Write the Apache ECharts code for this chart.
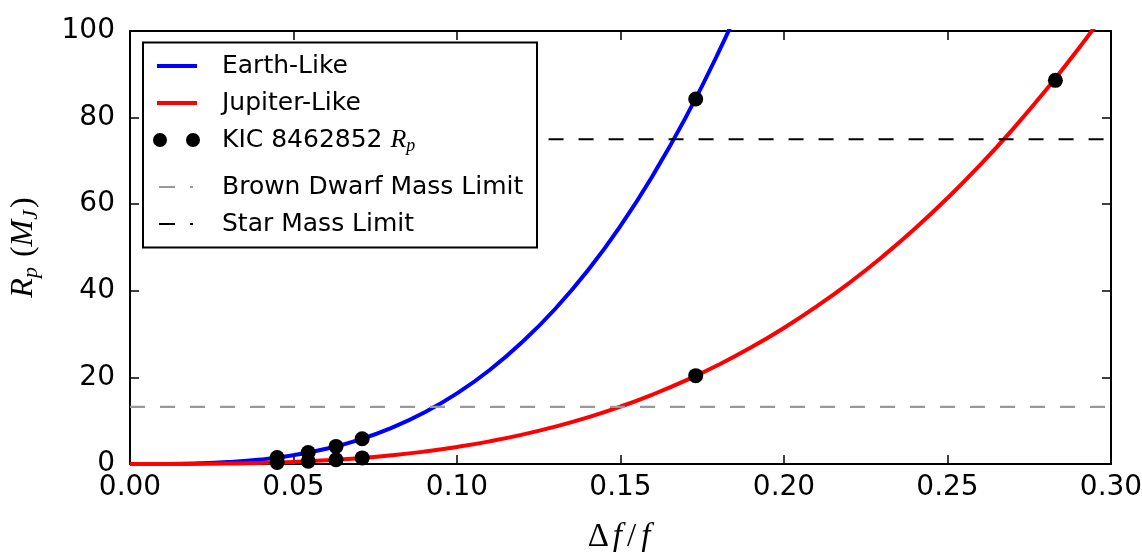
<!DOCTYPE html>
<html><head><meta charset="utf-8">
<script src="https://cdn.jsdelivr.net/npm/echarts@6/dist/echarts.min.js"></script>
<style>html,body{margin:0;padding:0;background:#fff}#c{width:1142px;height:552px}</style>
</head><body><div id="c"></div>
<script>
// ---- data ----
const xTicks = [0, 0.05, 0.10, 0.15, 0.20, 0.25, 0.30];
const xTickLabels = ['0.00', '0.05', '0.10', '0.15', '0.20', '0.25', '0.30'];
const yTicks = [0, 20, 40, 60, 80, 100];
const yTickLabels = ['0', '20', '40', '60', '80', '100'];

const earthX = [0, 0.01, 0.02, 0.03, 0.04, 0.05, 0.06, 0.07, 0.08, 0.09, 0.10, 0.11, 0.12, 0.13, 0.14, 0.15, 0.16, 0.17, 0.18, 0.19];
const earthY = [0, 0.02, 0.13, 0.44, 1.04, 2.04, 3.52, 5.59, 8.35, 11.88, 16.3, 21.7, 28.2, 35.8, 44.7, 55.0, 66.8, 80.1, 95.1, 111.8];

const jupiterX = [0, 0.01, 0.02, 0.03, 0.04, 0.05, 0.06, 0.07, 0.08, 0.09, 0.10, 0.11, 0.12, 0.13, 0.14, 0.15,
  0.16, 0.17, 0.18, 0.19, 0.20, 0.21, 0.22, 0.23, 0.24, 0.25, 0.26, 0.27, 0.28, 0.29, 0.30];
const jupiterY = [0, 0.004, 0.03, 0.11, 0.25, 0.49, 0.85, 1.35, 2.01, 2.86, 3.93, 5.23, 6.79, 8.63, 10.78, 13.26,
  16.10, 19.31, 22.92, 26.95, 31.44, 36.40, 41.85, 47.82, 54.33, 61.41, 69.07, 77.35, 86.27, 95.85, 106.1];

const kicX = [0.045, 0.0545, 0.063, 0.071, 0.173, 0.045, 0.0545, 0.063, 0.071, 0.173, 0.283];
const kicY = [1.49, 2.64, 4.07, 5.83, 84.3, 0.36, 0.64, 0.98, 1.41, 20.4, 88.6];

const brownDwarfX = [0, 0.30];
const brownDwarfY = [13.2, 13.2];
const starX = [0.128, 0.30];
const starY = [75, 75];

const names = ['Earth-Like', 'Jupiter-Like', 'KIC 8462852 Rp', 'Brown Dwarf Mass Limit', 'Star Mass Limit'];

// ---- chart ----
const pairs = (xs, ys) => xs.map((x, i) => [x, ys[i]]);
const lbl = (ticks, labels) => v => {
  const i = ticks.findIndex(t => Math.abs(t - v) < 1e-9);
  return i >= 0 ? labels[i] : '';
};

const lineIcon = 'path://M0,0M64,14M4,5h40v4h-40z';
const dashIcon = 'path://M0,0M64,14M6,6h16v2h-16zM37,6h3v2h-3z';
const dotsIcon = 'path://M0,0M64,14M0,7a7,7 0 1,0 14,0a7,7 0 1,0 -14,0zM33,7a7,7 0 1,0 14,0a7,7 0 1,0 -14,0z';

const tickStyle = { show: true, inside: true, length: 9, lineStyle: { color: '#000', width: 1.5 } };
const lineStyleAxis = { show: true, onZero: false, lineStyle: { color: '#000', width: 2 } };
const labelFont = { fontSize: 28, fontFamily: 'DejaVu Sans', color: '#000' };
const serif = 'Liberation Serif';

const legendText = {
  fontSize: 25, fontFamily: 'DejaVu Sans', color: '#000', lineHeight: 30,
  rich: {
    t: { fontSize: 25, fontFamily: 'DejaVu Sans', color: '#000', lineHeight: 30 },
    r: { fontSize: 26, fontFamily: serif, fontStyle: 'italic', color: '#000', lineHeight: 30 },
    s: { fontSize: 18, fontFamily: serif, fontStyle: 'italic', color: '#000', lineHeight: 14, verticalAlign: 'bottom' }
  }
};
const legendCommon = {
  orient: 'vertical', left: 153, padding: 0, itemGap: 7, itemWidth: 64, itemHeight: 14,
  selectedMode: false, z: 10, itemStyle: { borderWidth: 0 }, textStyle: legendText,
  formatter: n => n === names[2] ? '{t|KIC 8462852 }{r|R}{s|p}' : n
};

const chart = echarts.init(document.getElementById('c'), null, { renderer: 'canvas' });
chart.setOption({
  animation: false,
  backgroundColor: '#fff',
  grid: { left: 130, right: 31, top: 31, bottom: 88, containLabel: false, outerBoundsMode: 'none' },
  graphic: [{
    type: 'rect', z: 3,
    shape: { x: 143, y: 42.5, width: 394, height: 205 },
    style: { fill: '#fff', stroke: '#000', lineWidth: 2 }
  }],
  legend: [
    Object.assign({}, legendCommon, {
      top: 51,
      data: [
        { name: names[0], icon: lineIcon, itemStyle: { color: '#0000ff' } },
        { name: names[1], icon: lineIcon, itemStyle: { color: '#ff0000' } },
        { name: names[2], icon: dotsIcon, itemStyle: { color: '#000' } }
      ]
    }),
    Object.assign({}, legendCommon, {
      top: 172,
      data: [
        { name: names[3], icon: dashIcon, itemStyle: { color: '#999' } },
        { name: names[4], icon: dashIcon, itemStyle: { color: '#000' } }
      ]
    })
  ],
  xAxis: [{
    type: 'value', position: 'bottom', min: 0, max: 0.3, interval: 0.05,
    axisLine: lineStyleAxis, axisTick: tickStyle, splitLine: { show: false },
    axisLabel: Object.assign({ margin: 10, formatter: lbl(xTicks, xTickLabels) }, labelFont),
    name: '{d|Δ}{f|f}{o|/}{f|f}', nameLocation: 'middle', nameGap: 55,
    nameTextStyle: {
      rich: {
        d: { fontSize: 33, fontFamily: serif, color: '#000', lineHeight: 36, padding: [0, 1, 0, 0] },
        f: { fontSize: 33, fontFamily: serif, fontStyle: 'italic', color: '#000', lineHeight: 36, padding: [0, 3, 0, 3] },
        o: { fontSize: 33, fontFamily: serif, color: '#000', lineHeight: 36, padding: [0, 2, 0, 2] }
      }
    }
  }, {
    type: 'value', position: 'top', min: 0, max: 0.3, interval: 0.05,
    axisLine: lineStyleAxis, axisTick: tickStyle, axisLabel: { show: false }, splitLine: { show: false }
  }],
  yAxis: [{
    type: 'value', position: 'left', min: 0, max: 100, interval: 20,
    axisLine: lineStyleAxis, axisTick: tickStyle, splitLine: { show: false },
    axisLabel: Object.assign({ margin: 15, formatter: lbl(yTicks, yTickLabels) }, labelFont),
    name: '{i|R}{s|p}{n| (}{i|M}{s|J}{n|)}', nameLocation: 'middle', nameRotate: 90, nameGap: 88,
    nameTextStyle: {
      rich: {
        i: { fontSize: 32, fontFamily: serif, fontStyle: 'italic', color: '#000', lineHeight: 36 },
        s: { fontSize: 22, fontFamily: serif, fontStyle: 'italic', color: '#000', lineHeight: 16, verticalAlign: 'bottom', padding: [0, 2, 0, 0] },
        n: { fontSize: 32, fontFamily: serif, color: '#000', lineHeight: 36 }
      }
    }
  }, {
    type: 'value', position: 'right', min: 0, max: 100, interval: 20,
    axisLine: lineStyleAxis, axisTick: tickStyle, axisLabel: { show: false }, splitLine: { show: false }
  }],
  series: [
    { name: names[0], type: 'line', data: pairs(earthX, earthY), smooth: true, showSymbol: false, symbol: 'none',
      z: 2, color: '#0000ff', lineStyle: { color: '#0000ff', width: 4 } },
    { name: names[1], type: 'line', data: pairs(jupiterX, jupiterY), smooth: true, showSymbol: false, symbol: 'none',
      z: 2, color: '#ff0000', lineStyle: { color: '#ff0000', width: 4 } },
    { name: names[3], type: 'line', data: pairs(brownDwarfX, brownDwarfY), showSymbol: false, symbol: 'none',
      z: 3, color: '#999', lineStyle: { color: '#999', width: 2.2, type: [15, 15] } },
    { name: names[4], type: 'line', data: pairs(starX, starY), showSymbol: false, symbol: 'none',
      z: 3, color: '#000', lineStyle: { color: '#000', width: 2.2, type: [15, 15] } },
    { name: names[2], type: 'scatter', data: pairs(kicX, kicY), symbol: 'circle', symbolSize: 15,
      z: 4, itemStyle: { color: '#000', opacity: 1 } }
  ]
});
</script>
</body></html>
